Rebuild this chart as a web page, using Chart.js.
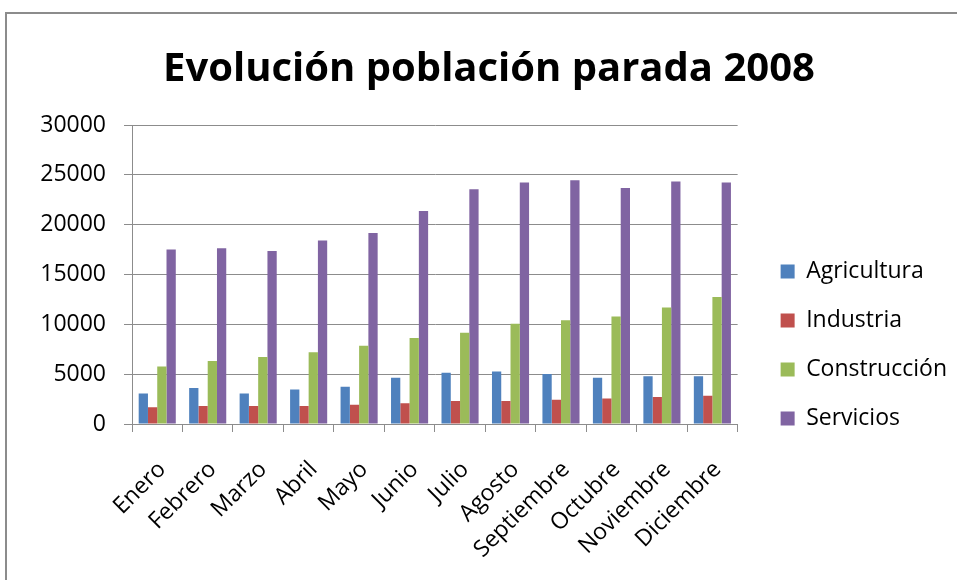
<!DOCTYPE html>
<html>
<head>
<meta charset="utf-8">
<script src="https://cdn.jsdelivr.net/npm/chart.js@4"></script>
<style>
  html, body { margin: 0; padding: 0; background: #fff; }
  #frame { position: absolute; left: 5px; top: 12px; width: 1000px; height: 1000px; border: 2px solid #8c8c8c; }
  #wrap { position: absolute; left: 0; top: 0; width: 957px; height: 580px; }
</style>
</head>
<body>
<div id="frame"></div>
<div id="wrap"><canvas id="chart"></canvas></div>
<script>
const months = ['Enero', 'Febrero', 'Marzo', 'Abril', 'Mayo', 'Junio', 'Julio', 'Agosto', 'Septiembre', 'Octubre', 'Noviembre', 'Diciembre'];
const agricultura  = [3070, 3610, 3070, 3470, 3740, 4640, 5140, 5280, 5010, 4640, 4780, 4780];
const industria    = [1670, 1800, 1800, 1800, 1940, 2070, 2300, 2300, 2440, 2570, 2710, 2840];
const construccion = [5780, 6310, 6710, 7210, 7850, 8620, 9150, 10050, 10420, 10790, 11690, 12730];
const servicios    = [17500, 17640, 17370, 18400, 19170, 21380, 23550, 24220, 24450, 23680, 24320, 24220];

const font = "'Open Sans', sans-serif";

// move the legend right and down, like the Excel original
const legendShift = {
    id: 'legendShift',
    afterLayout(chart) {
        const lg = chart.legend;
        lg.left += 17;
        lg.right += 17;
        lg.top += 64;
        lg.bottom += 64;
    }
};

document.addEventListener('DOMContentLoaded', () => {
    const ctx = document.getElementById('chart');

    new Chart(ctx, {
        type: 'bar',
        data: {
            labels: months,
            datasets: [
                { label: 'Agricultura', data: agricultura, backgroundColor: '#4F81BD' },
                { label: 'Industria', data: industria, backgroundColor: '#C0504D' },
                { label: 'Construcción', data: construccion, backgroundColor: '#9BBB59' },
                { label: 'Servicios', data: servicios, backgroundColor: '#8064A2' }
            ]
        },
        options: {
            responsive: true,
            maintainAspectRatio: false,
            animation: false,
            datasets: { bar: { barPercentage: 1, categoryPercentage: 0.735 } },
            layout: { padding: { left: 38, right: 17, bottom: 18 } },
            plugins: {
                title: {
                    display: true,
                    text: 'Evolución población parada 2008',
                    color: '#000',
                    font: { family: font, size: 40, weight: 'bold' },
                    padding: { top: 46, bottom: 31 }
                },
                legend: {
                    position: 'right',
                    align: 'center',
                    labels: {
                        color: '#000',
                        font: { family: font, size: 23 },
                        boxWidth: 14,
                        boxHeight: 14,
                        padding: 26
                    }
                },
                tooltip: { enabled: false }
            },
            scales: {
                y: {
                    min: 0,
                    max: 30000,
                    afterFit: (s) => { s.width = 94; },
                    ticks: {
                        stepSize: 5000,
                        color: '#000',
                        font: { family: font, size: 23 },
                        padding: 18,
                        callback: (v) => String(v)
                    },
                    grid: { color: '#8c8c8c', tickLength: 8 },
                    border: { color: '#8c8c8c' }
                },
                x: {
                    afterFit: (s) => { s.height = 138; },
                    ticks: {
                        color: '#000',
                        font: { family: font, size: 23 },
                        minRotation: 45,
                        maxRotation: 45,
                        padding: 24,
                        labelOffset: 5
                    },
                    grid: { drawOnChartArea: false, color: '#8c8c8c', tickLength: 8 },
                    border: { color: '#8c8c8c' }
                }
            }
        },
        plugins: [legendShift]
    });
});
</script>
</body>
</html>
